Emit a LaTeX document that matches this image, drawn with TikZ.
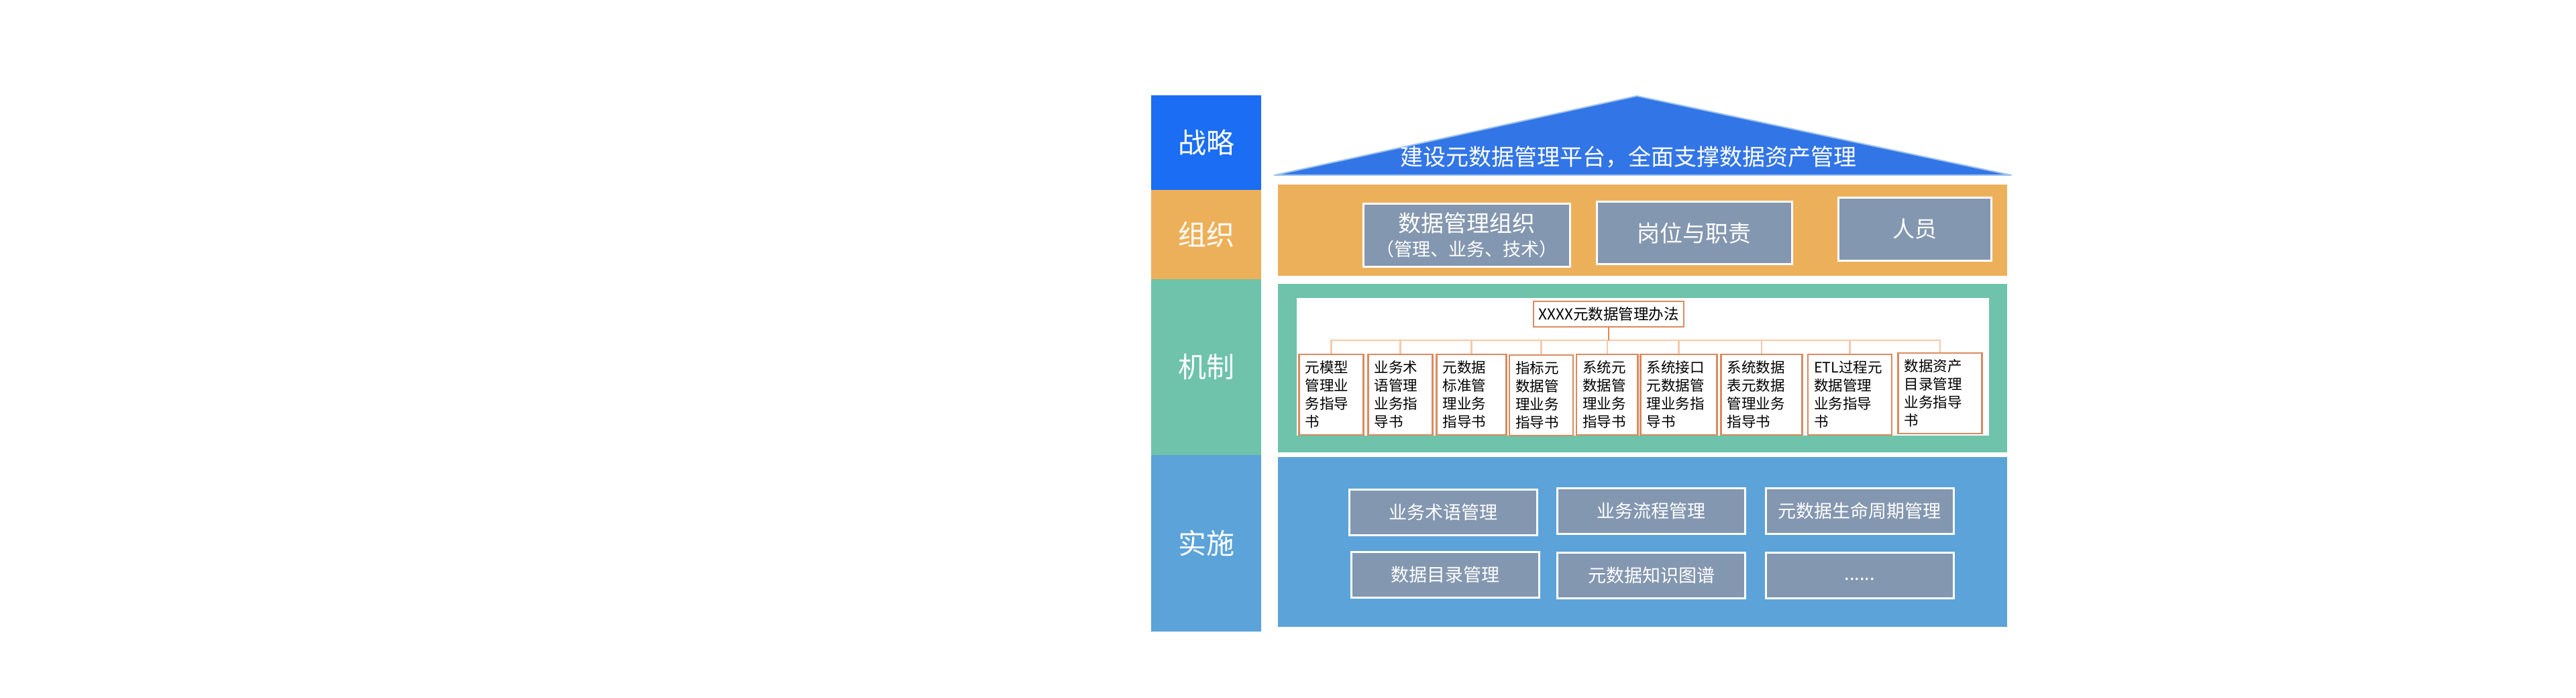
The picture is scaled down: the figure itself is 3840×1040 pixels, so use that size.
\documentclass[tikz,border=0pt]{standalone}
\usepackage{fontspec}
\setmainfont{Noto Sans CJK SC}
\definecolor{stratblue}{HTML}{1B6EF3}
\definecolor{roofblue}{HTML}{3275E6}
\definecolor{roofedge}{HTML}{9CC2EE}
\definecolor{orangec}{HTML}{EDB05A}
\definecolor{tealc}{HTML}{6EC3AA}
\definecolor{implblue}{HTML}{5BA3D9}
\definecolor{boxgray}{HTML}{8497B0}
\definecolor{docline}{HTML}{D98B5F}
\definecolor{linkc}{HTML}{F6C9A8}
\definecolor{darklink}{HTML}{E2894F}
\tikzset{
  lefttag/.style={fill=#1, text=white, inner sep=0pt, minimum width=164pt,
    font=\fontsize{42}{48}\selectfont},
  panel/.style={fill=#1, inner sep=0pt, minimum width=1087pt},
  graybox/.style={draw=white, line width=3pt, fill=boxgray, text=white, inner sep=0pt},
  docbox/.style={draw=docline, line width=2.5pt, fill=white, align=left,
    inner xsep=9pt, inner ysep=0pt, text width=#1, minimum height=120pt,
    font=\fontsize{21.5}{27}\selectfont},
  link/.style={draw=linkc, line width=2.5pt},
  mainlink/.style={draw=darklink, line width=2.5pt}
}
\begin{document}
\begin{tikzpicture}[x=1pt,y=-1pt]
\useasboundingbox (0,0) rectangle (3840,1040);
\fill[white] (0,0) rectangle (3840,1040);

% left column
\node[lefttag=stratblue, minimum height=141pt] (zl) at (1798,212.5) {战略};
\node[lefttag=orangec, minimum height=133pt] (zz) at (1798,349.5) {组织};
\node[lefttag=tealc, minimum height=262pt] (jz) at (1798,547) {机制};
\node[lefttag=implblue, minimum height=263pt] (ss) at (1798,809.5) {实施};

% roof
\fill[roofblue, draw=roofedge, line width=2pt, line join=round] (2440,143) -- (2998,261) -- (1900,261) -- cycle;
\node[text=white, font=\fontsize{34}{40}\selectfont, inner sep=0pt] (rooft) at (2427,234) {建设元数据管理平台，全面支撑数据资产管理};

% organisation
\node[panel=orangec, minimum height=136pt] (orgp) at (2448.5,343) {};
\node[graybox, minimum width=308pt, minimum height=93pt, align=center,
  font=\fontsize{34}{36}\selectfont] (o1) at (2186,350.5)
  {数据管理组织\\{\fontsize{27}{36}\selectfont （管理、业务、技术）}};
\node[graybox, minimum width=291pt, minimum height=92pt,
  font=\fontsize{34}{40}\selectfont] (o2) at (2525.5,347) {岗位与职责};
\node[graybox, minimum width=228pt, minimum height=93pt,
  font=\fontsize{33}{40}\selectfont] (o3) at (2854,341.5) {人员};

% mechanism
\node[panel=tealc, minimum height=251pt] (mechp) at (2448.5,548.5) {};
\node[fill=white, inner sep=0pt, minimum width=1032pt, minimum height=205pt] (wp) at (2449,546.5) {};
\node[draw=docline, line width=2.5pt, fill=white, inner sep=0pt, minimum width=224pt,
  minimum height=38pt, font=\fontsize{22.5}{26}\selectfont] (pb) at (2398,468) {XXXX元数据管理办法};

\node[docbox=78pt] (c1) at (1984.6,588) {元模型\\管理业\\务指导\\书};
\node[docbox=78pt] (c2) at (2087.7,588) {业务术\\语管理\\业务指\\导书};
\node[docbox=86pt] (c3) at (2193.5,588) {元数据\\标准管\\理业务\\指导书};
\node[docbox=77pt] (c4) at (2297.7,589) {指标元\\数据管\\理业务\\指导书};
\node[docbox=73.5pt] (c5) at (2395.8,588) {系统元\\数据管\\理业务\\指导书};
\node[docbox=96pt] (c6) at (2502.5,588) {系统接口\\元数据管\\理业务指\\导书};
\node[docbox=103pt] (c7) at (2626,588) {系统数据\\表元数据\\管理业务\\指导书};
\node[docbox=107pt] (c8) at (2757.7,588) {ETL过程元\\数据管理\\业务指导\\书};
\node[docbox=107pt] (c9) at (2892,586) {数据资产\\目录管理\\业务指导\\书};

\coordinate (bus) at (2398,507);
\foreach \c in {c1,c2,c3,c4,c5,c6,c7,c8,c9} {
  \draw[link] (bus) -| (\c.north);
}
\draw[mainlink] (pb.south) -- (bus);

% implementation
\node[panel=implblue, minimum height=253pt] (implp) at (2448.5,807.5) {};
\tikzset{implbox/.style={graybox, minimum width=280pt, minimum height=68pt,
  font=\fontsize{27}{32}\selectfont}}
\node[implbox] (i1) at (2151,763) {业务术语管理};
\node[implbox] (i2) at (2461.5,761) {业务流程管理};
\node[implbox] (i3) at (2772,761) {元数据生命周期管理};
\node[implbox] (i4) at (2154,856) {数据目录管理};
\node[implbox] (i5) at (2461.5,857) {元数据知识图谱};
\node[implbox, text height=14pt, text depth=0pt] (i6) at (2772,857) {......};
\end{tikzpicture}
\end{document}
